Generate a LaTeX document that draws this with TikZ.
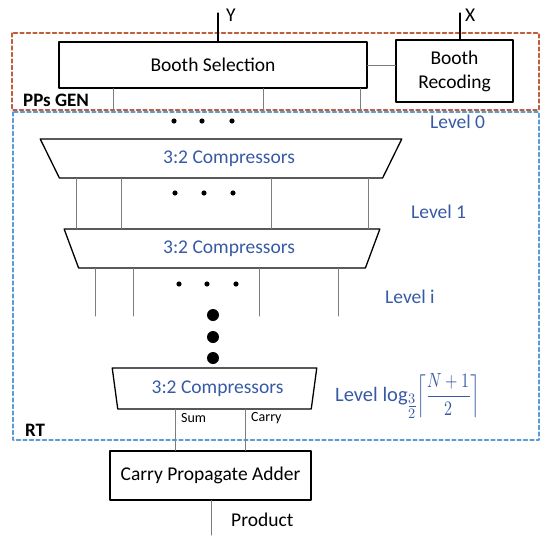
\documentclass[tikz,border=0pt]{standalone}
\usepackage{fontspec}
\usepackage{unicode-math}
\usepackage{graphicx}
\setmainfont{Carlito}
\setmathfont{Latin Modern Math}
\usetikzlibrary{shapes.geometric}

\definecolor{ppsred}{RGB}{190,95,60}
\definecolor{rtblue}{RGB}{91,155,213}
\definecolor{lvlblue}{RGB}{55,90,165}
\definecolor{wiregray}{RGB}{125,125,125}

\tikzset{
  every node/.style={font=\fontsize{19.5}{24}\selectfont},
  blockbox/.style={draw=black,line width=1.3pt,align=center,inner sep=0pt},
  compbox/.style={trapezium,shape border rotate=180,trapezium stretches=true,
    draw=black,line width=1.3pt,inner sep=0pt,text=lvlblue},
  wire/.style={draw=wiregray,line width=1pt},
  inwire/.style={draw=black,line width=1.3pt},
  tag/.style={anchor=west,inner sep=0pt},
  lvl/.style={tag,text=lvlblue},
  stagelabel/.style={tag,font=\fontsize{19}{23}\selectfont\bfseries},
  ppsframe/.style={draw=ppsred,line width=1.2pt,dash pattern=on 4pt off 2.5pt},
  rtframe/.style={draw=rtblue,line width=1.2pt,dash pattern=on 4pt off 2.5pt},
}

\begin{document}
\begin{tikzpicture}[x=1pt,y=-1pt,line cap=round,line join=round]
\useasboundingbox (0,0) rectangle (550,544);

% the two stage frames
\draw[ppsframe] (12,33) rectangle (539,110);
\draw[rtframe] (13,112) rectangle (539,440);
\node[stagelabel] (ppslbl) at (23,100) {PPs GEN};
\node[stagelabel] (rtlbl) at (25,430) {RT};

% booth blocks
\node[blockbox,minimum width=308,minimum height=46] (bsel) at (213,65) {Booth Selection};
\node[blockbox,minimum width=117,minimum height=62] (brec) at (454.5,71) {Booth\\Recoding};
\draw[wire] (bsel.east) -- (bsel.east -| brec.west);

% operand inputs
\coordinate (yin) at (218,13);
\coordinate (xin) at (460,13);
\draw[inwire] (yin) -- (yin |- bsel.north);
\draw[inwire] (xin) -- (xin |- brec.north);
\node[tag] (ylbl) at (226,15) {Y};
\node[tag] (xlbl) at (465,15) {X};

% partial products out of the selection
\foreach \x [count=\i] in {113,263,360} {
  \coordinate (pp\i) at (\x,110);
  \draw[wire] (pp\i |- bsel.south) -- (pp\i);
}
\foreach \x in {174,202,232} \fill (\x,121) circle (2.6);
\node[lvl] (lvl0) at (430,122) {Level 0};

% compressor levels
\node[compbox,minimum width=362,minimum height=39,trapezium angle=61] (comp0) at (221,158.5) {\hspace*{16pt}3:2 Compressors};
\node[compbox,minimum width=316,minimum height=39,trapezium angle=65] (comp1) at (222,248.5) {\hspace*{14pt}3:2 Compressors};
\node[compbox,minimum width=205,minimum height=41,trapezium angle=76] (comp2) at (214.5,388.5) {\hspace*{6pt}3:2 Compressors};

% level 0 to level 1
\foreach \x in {76,121,271,368} {
  \coordinate (cx) at (\x,0);
  \draw[wire] (cx |- comp0.south) -- (cx |- comp1.north);
}
\foreach \x in {175,204,233} \fill (\x,193) circle (2.6);
\node[lvl] (lvl1) at (411,212) {Level 1};

% out of level 1
\foreach \x in {95,133,259,338} {
  \coordinate (cx) at (\x,316);
  \draw[wire] (cx |- comp1.south) -- (cx);
}
\foreach \x in {179,207,236} \fill (\x,284) circle (2.6);
\node[lvl] (lvli) at (385,297) {Level i};

% more levels
\foreach \y in {315,337,358} \fill (213,\y) circle (6);
\node[lvl,font=\fontsize{20.5}{24}\selectfont] (lvln) at (335,396) {Level $\log_{\textstyle\frac{3}{2}}$\scalebox{0.78}[1]{$\left\lceil\displaystyle\frac{N+1}{2}\right\rceil$}};

% final adder
\node[blockbox,minimum width=201,minimum height=49] (cpa) at (210.5,475.5) {Carry Propagate Adder};
\coordinate (sumx) at (175,0);
\coordinate (carx) at (245,0);
\draw[wire] (sumx |- comp2.south) -- (sumx |- cpa.north);
\draw[wire] (carx |- comp2.south) -- (carx |- cpa.north);
\node[tag,font=\fontsize{14}{16}\selectfont] (sumlbl) at (181,418) {Sum};
\node[tag,font=\fontsize{14}{16}\selectfont] (carlbl) at (251,418) {Carry};

% product output
\coordinate (prod) at (211,535);
\draw[wire] (prod |- cpa.south) -- (prod);
\node[tag] (prodlbl) at (231,520) {Product};

\end{tikzpicture}
\end{document}
